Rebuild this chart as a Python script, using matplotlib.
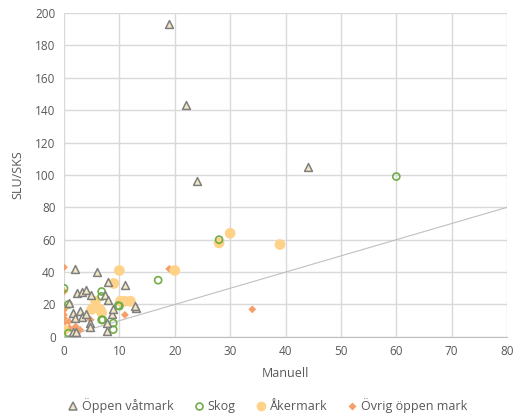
import matplotlib
matplotlib.use("Agg")
import matplotlib.pyplot as plt
from matplotlib.lines import Line2D

plt.rcParams['font.family'] = ['Open Sans', 'DejaVu Sans']

# Öppen våtmark (triangles)
vat_x = [19, 22, 24, 44, 2, 6, 8, 11, 2.4, 3.3, 4, 4.8, 7.4, 8, 0.9, 13, 1.6, 2.9, 3.2, 4, 2,
         8.7, 8.9, 7.7, 4.7, 4.7, 1.6, 2.1, 7.8, 12.8]
vat_y = [193, 143, 96, 105, 42, 40, 34, 32, 27, 28, 29, 26, 26, 23, 21, 18, 15, 16, 12.5, 14, 11.5,
         14, 17, 3.7, 8.5, 6.4, 3.3, 3.3, 8.5, 19]
# Skog (open green circles)
skog_x = [60, 28, 17, 0, 6.8, 6.8, 0.8, 10, 6.8, 8.9, 8.9, 0.8, 9.8, 7]
skog_y = [99, 60, 35, 30, 28, 25, 20, 19, 10.5, 8.5, 4.5, 2.3, 19.3, 10.5]
# Åkermark (filled light orange circles)
aker_x = [39, 30, 28, 20, 10, 9, 5.7, 5, 6.5, 6.8, 11, 12, 10.2, 0]
aker_y = [57, 64, 58, 41, 41, 33, 22, 17, 17, 15, 22, 22, 22, 4.3]
# Övrig öppen mark (diamonds)
ovr_x = [34, 19, 0, 0, 0, 0, 0, 0, 1, 0.9, 2.9, 2.1, 4.8, 11]
ovr_y = [17, 42, 43, 28, 16.7, 13.6, 11.5, 8.5, 5.4, 9.5, 4.3, 6.4, 10.5, 13.6]

line_x = [0, 80]
line_y = [0, 80]

fig = plt.figure(figsize=(5.14, 4.19), dpi=100)
ax = fig.add_axes([0.1245, 0.196, 0.862, 0.773])

grid_c = '#D9D9D9'
txt_c = '#595959'

ax.plot(line_x, line_y, color='#BFBFBF', lw=0.8, zorder=2)

ax.scatter(ovr_x, ovr_y, marker='D', s=16, color='#F4A06A', edgecolors='none', zorder=3)
ax.scatter(aker_x, aker_y, marker='o', s=60, color='#FFD28A', edgecolors='none', zorder=3)
ax.scatter(skog_x, skog_y, marker='o', s=26, facecolors='none', edgecolors='#70AD47', linewidths=1.2, zorder=4)
ax.scatter(vat_x, vat_y, marker='^', s=32, facecolors='#F3E8C4', edgecolors='#7F7F7F', linewidths=1.1, zorder=5)

ax.set_xlim(0, 80)
ax.set_ylim(0, 200)
ax.set_xticks(range(0, 81, 10))
ax.set_yticks(range(0, 201, 20))
ax.grid(True, color=grid_c, lw=1.0)
ax.set_axisbelow(True)
for s in ['top', 'right', 'left']:
    ax.spines[s].set_visible(False)
ax.spines['bottom'].set_color('#BFBFBF')
ax.tick_params(axis='both', length=0, colors=txt_c, labelsize=8.5, pad=6)
ax.set_xlabel('Manuell', color=txt_c, fontsize=9, labelpad=6)
ax.set_ylabel('SLU/SKS', color=txt_c, fontsize=9, labelpad=8)

handles = [
    Line2D([], [], marker='^', ls='none', markersize=6, markerfacecolor='#F3E8C4', markeredgecolor='#7F7F7F', markeredgewidth=1.1, label='Öppen våtmark'),
    Line2D([], [], marker='o', ls='none', markersize=5, markerfacecolor='none', markeredgecolor='#70AD47', markeredgewidth=1.2, label='Skog'),
    Line2D([], [], marker='o', ls='none', markersize=7, markerfacecolor='#FFD28A', markeredgecolor='none', label='Åkermark'),
    Line2D([], [], marker='D', ls='none', markersize=4, markerfacecolor='#F4A06A', markeredgecolor='none', label='Övrig öppen mark'),
]
fig.legend(handles=handles, loc='center', bbox_to_anchor=(0.52, 0.032), ncol=4, frameon=False,
           fontsize=9, labelcolor=txt_c, handletextpad=0.2, columnspacing=1.5, handlelength=1.0)

fig.savefig('out.png', dpi=100)
